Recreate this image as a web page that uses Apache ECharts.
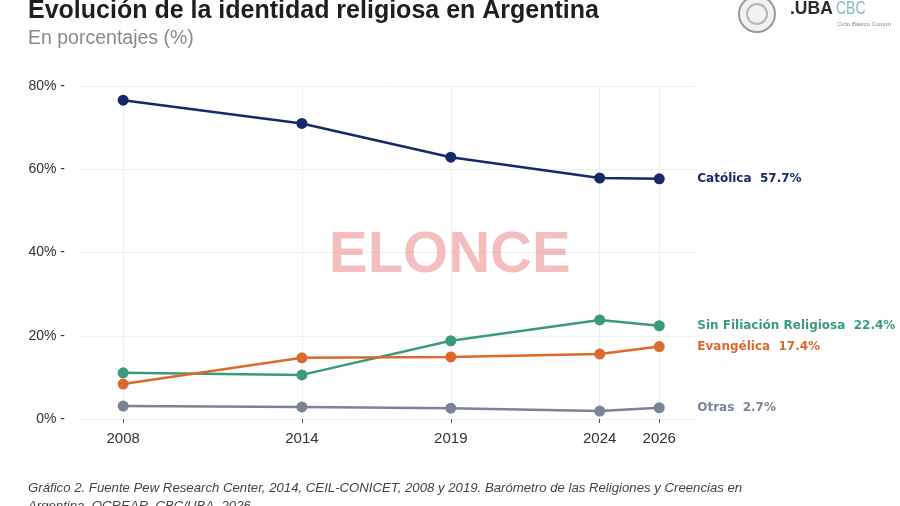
<!DOCTYPE html>
<html>
<head>
<meta charset="utf-8">
<script src="https://cdn.jsdelivr.net/npm/echarts@6/dist/echarts.min.js"></script>
<style>
  html, body { margin: 0; padding: 0; background: #fff; }
  #chart { width: 900px; height: 506px; }
</style>
</head>
<body>
<div id="chart"></div>
<script>
(function () {

    'use strict';

    // años de la encuesta
    var years = [2008, 2014, 2019, 2024, 2026];
    // porcentajes por identidad religiosa
    var catolica = [76.6, 71.0, 62.9, 57.9, 57.7];
    var sinFiliacion = [11.1, 10.6, 18.8, 23.8, 22.4];
    var evangelica = [8.4, 14.7, 14.9, 15.6, 17.4];
    var otras = [3.1, 2.9, 2.6, 1.9, 2.7];
    var yTicks = [0, 20, 40, 60, 80];

    var seriesDefs = [
        { name: 'Católica', values: catolica, color: '#16296b' },
        { name: 'Sin Filiación Religiosa', values: sinFiliacion, color: '#3b9b78' },
        { name: 'Evangélica', values: evangelica, color: '#dc6a2e' },
        { name: 'Otras', values: otras, color: '#7b8396' }
    ];

    var myChart = echarts.init(document.getElementById('chart'));

    var series = seriesDefs.map(function (s) {
        return {
            name: s.name,
            type: 'line',
            data: years.map(function (y, i) { return [y, s.values[i]]; }),
            symbol: 'circle',
            symbolSize: 11,
            lineStyle: { color: s.color, width: 2.5 },
            itemStyle: { color: s.color },
            endLabel: {
                show: true,
                distance: 38,
                color: s.color,
                fontFamily: 'DejaVu Sans',
                fontWeight: 'bold',
                fontSize: 12,
                formatter: function (p) {
                    return p.seriesName + '  ' + p.value[1].toFixed(1) + '%';
                }
            },
            z: 3
        };
    });

    var option = {
        backgroundColor: '#ffffff',
        animation: false,
        grid: { left: 80, right: 205, top: 86, bottom: 87 },
        xAxis: {
            type: 'value',
            min: 2006.55,
            max: 2027.2,
            axisLine: { show: false },
            axisTick: {
                show: true,
                customValues: years,
                length: 4,
                lineStyle: { color: '#555' }
            },
            axisLabel: {
                customValues: years,
                margin: 12,
                fontSize: 15,
                color: '#333',
                fontFamily: 'Liberation Sans',
                formatter: function (v) { return String(v); }
            },
            splitLine: { show: true, lineStyle: { color: '#efefef', width: 1 } }
        },
        yAxis: {
            type: 'value',
            min: 0,
            max: 80,
            interval: 20,
            axisLine: { show: false },
            axisTick: { show: false },
            axisLabel: {
                customValues: yTicks,
                margin: 15,
                fontSize: 14,
                color: '#333',
                fontFamily: 'Liberation Sans',
                formatter: '{value}% -'
            },
            splitLine: { show: true, lineStyle: { color: '#efefef', width: 1 } }
        },
        graphic: [
            // título
            {
                type: 'text', left: 28, top: -1,
                style: {
                    text: 'Evolución de la identidad religiosa en Argentina',
                    fontFamily: 'Liberation Sans', fontWeight: 'bold',
                    fontSize: 25, fill: '#1e1e1e'
                }
            },
            {
                type: 'text', left: 28, top: 29,
                style: {
                    text: 'En porcentajes (%)',
                    fontFamily: 'Liberation Sans', fontSize: 19.5, fill: '#8a8a8a'
                }
            },
            // logo UBA CBC
            {
                type: 'circle', shape: { cx: 757, cy: 14, r: 18 },
                style: { fill: '#f1f1f1', stroke: '#9a9a9a', lineWidth: 2 }
            },
            {
                type: 'circle', shape: { cx: 757, cy: 14, r: 10 },
                style: { fill: 'none', stroke: '#b5b5b5', lineWidth: 2 }
            },
            {
                type: 'text', x: 790, y: 0,
                style: {
                    text: '.UBA', fontFamily: 'Liberation Sans', fontWeight: 'bold',
                    fontSize: 17.5, fill: '#2a2a2a'
                }
            },
            {
                type: 'text', x: 836, y: 0, scaleX: 0.8,
                style: {
                    text: 'CBC', fontFamily: 'Liberation Sans',
                    fontSize: 17.5, fill: '#86bdbd'
                }
            },
            {
                type: 'text', x: 837, y: 21,
                style: {
                    text: 'Ciclo Básico Común', fontFamily: 'Liberation Sans',
                    fontSize: 6, fill: '#888'
                }
            },
            // marca de agua
            {
                type: 'text', left: 329, top: 227, z: 10,
                style: {
                    text: 'ELONCE', fontFamily: 'Liberation Sans', fontWeight: 'bold',
                    fontSize: 58, fill: 'rgba(235,125,125,0.5)'
                }
            },
            // fuente
            {
                type: 'text', left: 28, top: 479,
                style: {
                    text: 'Gráfico 2. Fuente Pew Research Center, 2014, CEIL-CONICET, 2008 y 2019. Barómetro de las Religiones y Creencias en\nArgentina. OCREAR, CBC/UBA, 2026.',
                    fontFamily: 'Liberation Sans', fontStyle: 'italic',
                    fontSize: 13.2, lineHeight: 18, fill: '#444'
                }
            }
        ],
        series: series
    };

    myChart.setOption(option);
})();
</script>
</body>
</html>
